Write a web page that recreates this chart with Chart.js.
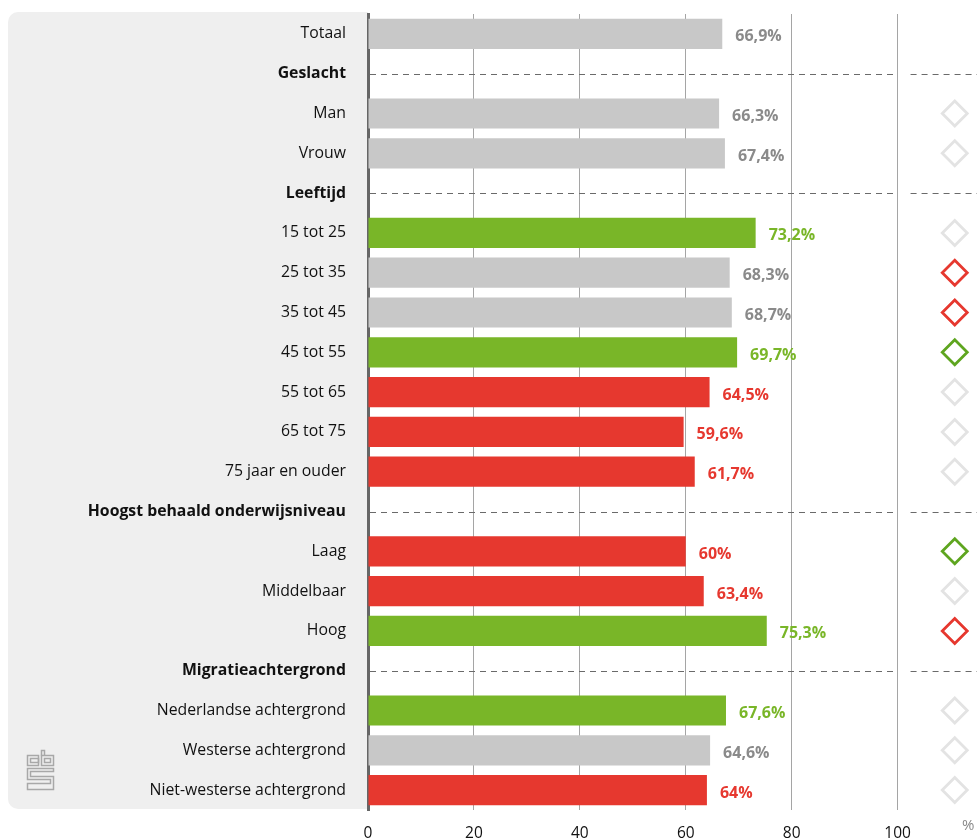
<!DOCTYPE html>
<html>
<head>
<meta charset="utf-8">
<script src="https://cdn.jsdelivr.net/npm/chart.js@4"></script>
<style>
    html, body { margin: 0; padding: 0; background: #fff; }
    #wrap { width: 977px; height: 838px; position: relative; }
</style>
</head>
<body>
<div id="wrap"><canvas id="chart" width="977" height="838"></canvas></div>
<script>
// rijen van boven naar onder (kopjes hebben geen waarde)
const categories = [
    "Totaal", "Geslacht", "Man", "Vrouw", "Leeftijd",
    "15 tot 25", "25 tot 35", "35 tot 45", "45 tot 55", "55 tot 65", "65 tot 75", "75 jaar en ouder",
    "Hoogst behaald onderwijsniveau", "Laag", "Middelbaar", "Hoog",
    "Migratieachtergrond", "Nederlandse achtergrond", "Westerse achtergrond", "Niet-westerse achtergrond"
];
const headers = ["Geslacht", "Leeftijd", "Hoogst behaald onderwijsniveau", "Migratieachtergrond"];

const values = [
    66.9, null, 66.3, 67.4, null,
    73.2, 68.3, 68.7, 69.7, 64.5, 59.6, 61.7,
    null, 60, 63.4, 75.3,
    null, 67.6, 64.6, 64
];
// g = grijs, gr = groen, r = rood
const barKind = [
    "g", null, "g", "g", null,
    "gr", "g", "g", "gr", "r", "r", "r",
    null, "r", "r", "gr",
    null, "gr", "g", "r"
];
// ruitjes rechts
const diamondKind = [
    null, null, "g", "g", null,
    "g", "r", "r", "gr", "g", "g", "g",
    null, "gr", "g", "r",
    null, "g", "g", "g"
];
const xTicks = [0, 20, 40, 60, 80, 100];

const barColors = { g: "#c8c8c8", gr: "#79b628", r: "#e6382f" };
const labelColors = { g: "#8a8a8a", gr: "#79b628", r: "#e6382f" };
const diamondColors = { g: "#e3e3e3", gr: "#5ea51f", r: "#e6382f" };
const DIAMOND_X = 110.8;

const FONT = "'Open Sans', sans-serif";

const bgPlugin = {
    id: "bg",
    beforeDraw(chart) {
        const ctx = chart.ctx;
        const a = chart.chartArea;
        ctx.save();
        ctx.fillStyle = "#efefef";
        ctx.beginPath();
        ctx.roundRect(8, 12, a.left - 8, 797, [10, 0, 0, 10]);
        ctx.fill();

        // cbs logo
        ctx.strokeStyle = "#a8a8a8";
        ctx.lineWidth = 1.5;
        ctx.strokeRect(27.5, 755.5, 11, 10);
        ctx.strokeRect(30.5, 758.5, 8, 4);
        ctx.strokeRect(41.5, 755.5, 12, 10);
        ctx.strokeRect(44.5, 758.5, 6, 4);
        ctx.beginPath();
        ctx.moveTo(41.5, 755.5); ctx.lineTo(41.5, 750.5); ctx.lineTo(44.5, 750.5); ctx.lineTo(44.5, 755.5);
        ctx.stroke();
        ctx.beginPath();
        ctx.moveTo(53.5, 768.5); ctx.lineTo(27.5, 768.5); ctx.lineTo(27.5, 779.5); ctx.lineTo(50.5, 779.5);
        ctx.lineTo(50.5, 783.5); ctx.lineTo(27.5, 783.5); ctx.lineTo(27.5, 789.5); ctx.lineTo(53.5, 789.5);
        ctx.lineTo(53.5, 776.5); ctx.lineTo(30.5, 776.5); ctx.lineTo(30.5, 771.5); ctx.lineTo(53.5, 771.5);
        ctx.closePath();
        ctx.stroke();
        ctx.restore();
    },
    beforeDatasetsDraw(chart) {
        // gestippelde lijnen bij de kopjes
        const ctx = chart.ctx;
        const a = chart.chartArea;
        const xs = chart.scales.x;
        const ys = chart.scales.y;
        const x100 = xs.getPixelForValue(100);
        ctx.save();
        ctx.strokeStyle = "#6a6a6a";
        ctx.lineWidth = 1;
        ctx.setLineDash([6, 5]);
        categories.forEach((c, i) => {
            if (!headers.includes(c)) return;
            const y = Math.round(ys.getPixelForValue(i)) + 0.5;
            ctx.beginPath();
            ctx.moveTo(a.left + 2, y);
            ctx.lineTo(x100 - 4, y);
            ctx.moveTo(x100 + 13, y);
            ctx.lineTo(a.right, y);
            ctx.stroke();
        });
        ctx.restore();
    },
    afterDatasetsDraw(chart) {
        const ctx = chart.ctx;
        const meta = chart.getDatasetMeta(0);
        ctx.save();
        ctx.font = "bold 16px " + FONT;
        ctx.textBaseline = "middle";
        ctx.textAlign = "left";
        meta.data.forEach((bar, i) => {
            if (values[i] == null) return;
            ctx.fillStyle = labelColors[barKind[i]];
            ctx.fillText(String(values[i]).replace(".", ",") + "%", bar.x + 13, bar.y + 3);
        });
        ctx.fillStyle = "#888";
        ctx.font = "15px " + FONT;
        ctx.fillText("%", 962, 826);
        ctx.restore();
    }
};

new Chart(document.getElementById("chart"), {
    type: "bar",
    data: {
        labels: categories,
        datasets: [{
            data: values,
            backgroundColor: barKind.map(k => k ? barColors[k] : "transparent"),
            borderWidth: 0,
            categoryPercentage: 0.76,
            barPercentage: 1
        }, {
            type: "line",
            data: diamondKind.map(k => k ? DIAMOND_X : null),
            showLine: false,
            pointStyle: "rectRot",
            pointRadius: 12.5,
            pointBorderWidth: 2.8,
            pointBackgroundColor: "rgba(0,0,0,0)",
            pointBorderColor: diamondKind.map(k => k ? diamondColors[k] : "transparent")
        }]
    },
    options: {
        indexAxis: "y",
        responsive: false,
        animation: false,
        devicePixelRatio: 1,
        layout: { autoPadding: false, padding: { left: 8, top: 14, right: 0, bottom: 0 } },
        plugins: {
            legend: { display: false },
            tooltip: { enabled: false }
        },
        scales: {
            x: {
                min: 0,
                max: 115,
                afterBuildTicks: (s) => { s.ticks = xTicks.map(v => ({ value: v })); },
                afterFit: (s) => { s.height = 28; s.paddingRight = 0; },
                grid: {
                    color: (c) => c.tick && c.tick.value === 0 ? "transparent" : "#a5a5a5",
                    lineWidth: 1,
                    drawTicks: false
                },
                border: { display: false },
                ticks: {
                    color: "#111",
                    font: { family: FONT, size: 15.5 },
                    padding: 14,
                    maxRotation: 0
                }
            },
            y: {
                afterFit: (s) => {
                    s.width = 360;
                    s.paddingTop = 0;
                    s.paddingBottom = 0;
                },
                grid: { display: false, drawTicks: false },
                border: { color: "#666", width: 3 },
                ticks: {
                    color: "#111",
                    padding: 22,
                    font: (c) => ({
                        family: FONT,
                        size: 15.8,
                        weight: headers.includes(categories[c.index]) ? "bold" : "normal"
                    })
                }
            }
        }
    },
    plugins: [bgPlugin]
});
</script>
</body>
</html>
